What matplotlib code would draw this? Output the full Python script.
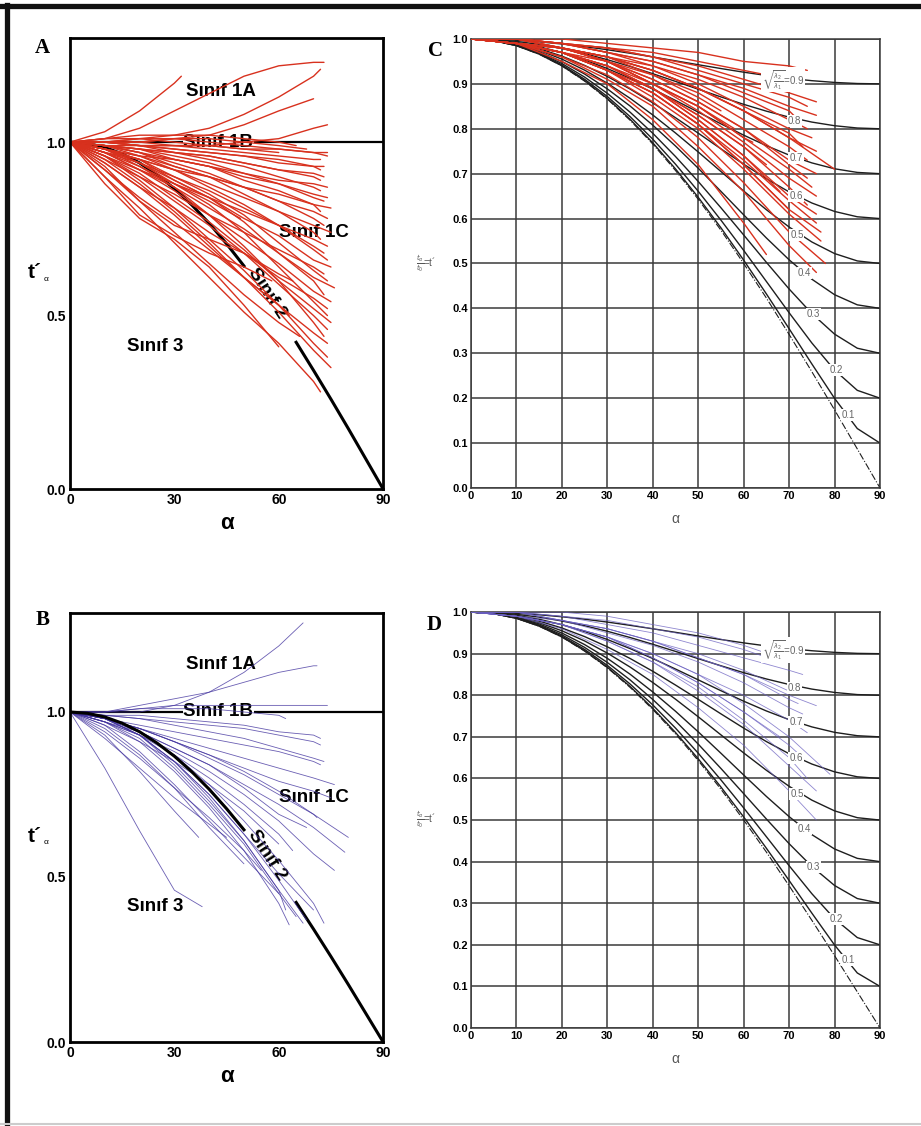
import matplotlib
matplotlib.use('Agg')
from matplotlib import pyplot as plt
from matplotlib.lines import Line2D

plt.rcParams['font.family'] = ['Liberation Sans', 'DejaVu Sans']

# Reference curves (flattened parallel folds), t' every 5 degrees of dip
alpha_ref = list(range(0, 95, 5))
ratio_names = ['0.1', '0.2', '0.3', '0.4', '0.5', '0.6', '0.7', '0.8', '0.9']
ref_01 = [1.0, 0.9962, 0.9850, 0.9663, 0.9403, 0.9073, 0.8675, 0.8212, 0.7687, 0.7106,
          0.6473, 0.5794, 0.5074, 0.4322, 0.3547, 0.2763, 0.1996, 0.1324, 0.1]
ref_02 = [1.0, 0.9963, 0.9854, 0.9673, 0.9422, 0.9102, 0.8718, 0.8271, 0.7768, 0.7211,
          0.6608, 0.5965, 0.5292, 0.4599, 0.3903, 0.3230, 0.2626, 0.2175, 0.2]
ref_03 = [1.0, 0.9965, 0.9862, 0.9690, 0.9453, 0.9151, 0.8789, 0.8370, 0.7899, 0.7382,
          0.6826, 0.6240, 0.5635, 0.5025, 0.4432, 0.3885, 0.3427, 0.3113, 0.3]
ref_04 = [1.0, 0.9968, 0.9873, 0.9715, 0.9496, 0.9219, 0.8888, 0.8507, 0.8080, 0.7616,
          0.7121, 0.6606, 0.6083, 0.5568, 0.5082, 0.4650, 0.4305, 0.4079, 0.4]
ref_05 = [1.0, 0.9971, 0.9886, 0.9746, 0.9551, 0.9306, 0.9014, 0.8679, 0.8307, 0.7906,
          0.7483, 0.7048, 0.6614, 0.6197, 0.5812, 0.5479, 0.5221, 0.5057, 0.5]
ref_06 = [1.0, 0.9976, 0.9903, 0.9783, 0.9618, 0.9411, 0.9165, 0.8885, 0.8577, 0.8246,
          0.7902, 0.7553, 0.7211, 0.6887, 0.6594, 0.6347, 0.6159, 0.6040, 0.6]
ref_07 = [1.0, 0.9981, 0.9923, 0.9828, 0.9697, 0.9534, 0.9341, 0.9123, 0.8884, 0.8631,
          0.8371, 0.8110, 0.7858, 0.7623, 0.7414, 0.7240, 0.7109, 0.7028, 0.7]
ref_08 = [1.0, 0.9986, 0.9946, 0.9879, 0.9787, 0.9673, 0.9539, 0.9389, 0.9226, 0.9055,
          0.8881, 0.8709, 0.8544, 0.8392, 0.8259, 0.8149, 0.8068, 0.8017, 0.8]
ref_09 = [1.0, 0.9993, 0.9971, 0.9936, 0.9888, 0.9829, 0.9760, 0.9682, 0.9599, 0.9513,
          0.9426, 0.9341, 0.9260, 0.9187, 0.9123, 0.9071, 0.9032, 0.9008, 0.9]
# class 2 boundary
class2 = [1.0, 0.996, 0.985, 0.966, 0.940, 0.906, 0.866, 0.819, 0.766, 0.707,
          0.643, 0.574, 0.500, 0.423, 0.342, 0.259, 0.174, 0.087, 0.0]

label_alpha = [83.0, 80.3, 75.3, 73.3, 71.7, 71.5, 71.5, 71.1, 68.6]
label_t = [0.163, 0.263, 0.387, 0.479, 0.563, 0.650, 0.735, 0.817, 0.909]

# Measured folds: end dip, then t' at 0, 10, 20 ... and at the end dip
red_a_end = [32, 73, 72, 70, 74, 65, 74, 60, 68,
             74, 72, 73, 72, 73, 72, 74, 72, 74, 73, 75, 72, 74, 73, 75, 72, 74,
             73, 74, 75, 73, 74, 76, 73, 75, 74, 74, 75, 74, 73, 74, 74, 75, 72,
             60, 58, 64, 49, 66, 63]
red_a = [
    [1.0, 1.03, 1.09, 1.17, 1.19],
    [1.0, 1.01, 1.04, 1.09, 1.14, 1.19, 1.22, 1.23, 1.23],
    [1.0, 1.0, 1.01, 1.02, 1.04, 1.08, 1.13, 1.19, 1.21],
    [1.0, 1.0, 1.0, 1.01, 1.02, 1.05, 1.09, 1.125],
    [1.0, 1.0, 0.99, 0.99, 0.99, 1.0, 1.01, 1.04, 1.05],
    [1.0, 1.01, 1.02, 1.02, 1.02, 1.01, 1.0, 0.99],
    [1.0, 1.0, 1.01, 1.01, 1.0, 0.99, 0.98, 0.97, 0.96],
    [1.0, 1.01, 1.01, 1.0, 0.99, 0.98, 0.97],
    [1.0, 1.0, 1.0, 1.01, 1.01, 1.0, 0.99, 0.98],
    [1.0, 1.0, 1.0, 0.99, 0.99, 0.98, 0.98, 0.97, 0.97],
    [1.0, 1.0, 0.99, 0.99, 0.98, 0.97, 0.96, 0.95, 0.95],
    [1.0, 0.99, 0.99, 0.98, 0.97, 0.96, 0.95, 0.93, 0.93],
    [1.0, 1.0, 0.99, 0.98, 0.97, 0.96, 0.94, 0.93, 0.92],
    [1.0, 0.99, 0.98, 0.97, 0.96, 0.94, 0.92, 0.91, 0.90],
    [1.0, 1.0, 0.99, 0.97, 0.96, 0.94, 0.92, 0.90, 0.89],
    [1.0, 0.98, 0.96, 0.95, 0.93, 0.91, 0.89, 0.88, 0.87],
    [1.0, 0.99, 0.98, 0.97, 0.95, 0.93, 0.90, 0.87, 0.86],
    [1.0, 0.99, 0.97, 0.95, 0.93, 0.90, 0.88, 0.85, 0.84],
    [1.0, 0.99, 0.98, 0.96, 0.94, 0.91, 0.88, 0.84, 0.83],
    [1.0, 0.97, 0.95, 0.92, 0.90, 0.87, 0.85, 0.82, 0.81],
    [1.0, 0.99, 0.98, 0.95, 0.93, 0.89, 0.86, 0.82, 0.80],
    [1.0, 0.98, 0.96, 0.93, 0.90, 0.87, 0.83, 0.80, 0.78],
    [1.0, 0.99, 0.97, 0.94, 0.91, 0.87, 0.83, 0.78, 0.76],
    [1.0, 0.98, 0.95, 0.92, 0.88, 0.84, 0.80, 0.76, 0.74],
    [1.0, 0.99, 0.97, 0.93, 0.90, 0.85, 0.80, 0.74, 0.72],
    [1.0, 0.96, 0.92, 0.88, 0.84, 0.80, 0.76, 0.72, 0.70],
    [1.0, 0.98, 0.94, 0.90, 0.86, 0.81, 0.76, 0.70, 0.68],
    [1.0, 0.99, 0.96, 0.92, 0.87, 0.82, 0.76, 0.69, 0.66],
    [1.0, 0.97, 0.94, 0.89, 0.84, 0.78, 0.73, 0.66, 0.64],
    [1.0, 0.95, 0.90, 0.85, 0.79, 0.74, 0.69, 0.64, 0.62],
    [1.0, 0.98, 0.95, 0.90, 0.85, 0.79, 0.71, 0.63, 0.60],
    [1.0, 0.97, 0.92, 0.87, 0.81, 0.75, 0.68, 0.61, 0.58],
    [1.0, 0.98, 0.95, 0.89, 0.84, 0.77, 0.68, 0.60, 0.56],
    [1.0, 0.97, 0.92, 0.86, 0.79, 0.72, 0.65, 0.57, 0.54],
    [1.0, 0.94, 0.87, 0.81, 0.74, 0.68, 0.61, 0.55, 0.52],
    [1.0, 0.98, 0.94, 0.88, 0.82, 0.74, 0.64, 0.54, 0.50],
    [1.0, 0.96, 0.91, 0.84, 0.77, 0.69, 0.60, 0.52, 0.48],
    [1.0, 0.96, 0.90, 0.83, 0.76, 0.68, 0.59, 0.50, 0.46],
    [1.0, 0.98, 0.93, 0.87, 0.79, 0.70, 0.60, 0.48, 0.44],
    [1.0, 0.92, 0.84, 0.77, 0.69, 0.61, 0.53, 0.45, 0.42],
    [1.0, 0.96, 0.89, 0.81, 0.72, 0.63, 0.53, 0.42, 0.38],
    [1.0, 0.95, 0.88, 0.80, 0.71, 0.61, 0.51, 0.40, 0.35],
    [1.0, 0.90, 0.81, 0.71, 0.61, 0.51, 0.42, 0.31, 0.28],
    [1.0, 0.88, 0.78, 0.72, 0.64, 0.53, 0.41],
    [1.0, 0.90, 0.79, 0.73, 0.68, 0.64, 0.60],
    [1.0, 0.92, 0.83, 0.76, 0.72, 0.68, 0.62, 0.60],
    [1.0, 0.97, 0.93, 0.88, 0.83, 0.78],
    [1.0, 0.93, 0.83, 0.74, 0.65, 0.56, 0.48, 0.44],
    [1.0, 0.94, 0.87, 0.79, 0.70, 0.61, 0.53, 0.50],
]

red_c_end = [74, 72, 76, 74, 76, 72, 74, 75, 73, 76, 74, 80, 76, 74, 75, 76, 74,
             76, 76, 77, 77, 78, 76, 65, 70, 68, 65, 62, 58, 55]
red_c = [
    [1.0, 1.0, 1.0, 0.99, 0.98, 0.97, 0.95, 0.94, 0.93],
    [1.0, 1.0, 0.99, 0.98, 0.97, 0.95, 0.93, 0.91, 0.90],
    [1.0, 1.0, 0.99, 0.98, 0.96, 0.94, 0.91, 0.88, 0.86],
    [1.0, 1.0, 0.99, 0.98, 0.96, 0.93, 0.90, 0.87, 0.85],
    [1.0, 1.0, 0.99, 0.97, 0.95, 0.92, 0.89, 0.85, 0.83],
    [1.0, 1.0, 0.99, 0.97, 0.95, 0.92, 0.88, 0.84, 0.82],
    [1.0, 1.0, 0.99, 0.97, 0.94, 0.91, 0.87, 0.82, 0.80],
    [1.0, 1.0, 0.98, 0.96, 0.94, 0.90, 0.85, 0.80, 0.78],
    [1.0, 1.0, 0.98, 0.96, 0.93, 0.89, 0.84, 0.79, 0.76],
    [1.0, 0.99, 0.98, 0.96, 0.93, 0.89, 0.84, 0.78, 0.75],
    [1.0, 0.99, 0.98, 0.96, 0.92, 0.88, 0.82, 0.76, 0.73],
    [1.0, 1.0, 0.98, 0.96, 0.93, 0.89, 0.84, 0.78, 0.71],
    [1.0, 0.99, 0.98, 0.95, 0.91, 0.86, 0.80, 0.73, 0.70],
    [1.0, 0.99, 0.98, 0.95, 0.91, 0.86, 0.80, 0.72, 0.69],
    [1.0, 0.99, 0.98, 0.95, 0.90, 0.85, 0.78, 0.71, 0.67],
    [1.0, 0.99, 0.97, 0.94, 0.90, 0.84, 0.77, 0.69, 0.65],
    [1.0, 0.99, 0.97, 0.94, 0.89, 0.83, 0.76, 0.67, 0.63],
    [1.0, 0.99, 0.97, 0.94, 0.89, 0.82, 0.74, 0.65, 0.61],
    [1.0, 0.99, 0.97, 0.93, 0.88, 0.81, 0.73, 0.64, 0.59],
    [1.0, 0.99, 0.97, 0.93, 0.88, 0.81, 0.72, 0.62, 0.57],
    [1.0, 0.99, 0.97, 0.93, 0.87, 0.80, 0.71, 0.61, 0.55],
    [1.0, 0.99, 0.96, 0.92, 0.86, 0.78, 0.68, 0.57, 0.50],
    [1.0, 0.99, 0.96, 0.91, 0.85, 0.76, 0.66, 0.54, 0.48],
    [1.0, 0.99, 0.95, 0.90, 0.82, 0.72, 0.59, 0.52],
    [1.0, 0.99, 0.97, 0.93, 0.88, 0.81, 0.72, 0.62],
    [1.0, 0.99, 0.97, 0.93, 0.89, 0.82, 0.74, 0.66],
    [1.0, 0.99, 0.97, 0.94, 0.89, 0.83, 0.76, 0.72],
    [1.0, 0.99, 0.98, 0.95, 0.90, 0.85, 0.78, 0.77],
    [1.0, 0.99, 0.97, 0.95, 0.90, 0.85, 0.80],
    [1.0, 1.0, 0.98, 0.95, 0.92, 0.87, 0.84],
]

blue_b_end = [67, 71, 74, 62, 72, 72, 73, 72, 76, 80, 79, 76, 71, 64, 75, 68,
              63, 67, 73, 70, 65, 50, 37, 60, 68, 62, 55, 45, 38, 60]
blue_b = [
    [1.0, 1.0, 1.0, 1.02, 1.06, 1.12, 1.20, 1.27],
    [1.0, 1.0, 1.02, 1.04, 1.06, 1.09, 1.12, 1.14, 1.14],
    [1.0, 1.0, 1.01, 1.02, 1.02, 1.02, 1.02, 1.02, 1.02],
    [1.0, 1.0, 1.01, 1.01, 1.01, 1.0, 0.99, 0.98],
    [1.0, 0.99, 0.99, 0.98, 0.97, 0.96, 0.94, 0.93, 0.92],
    [1.0, 0.99, 0.98, 0.97, 0.96, 0.95, 0.93, 0.91, 0.90],
    [1.0, 0.99, 0.98, 0.96, 0.94, 0.92, 0.89, 0.86, 0.85],
    [1.0, 0.98, 0.96, 0.94, 0.92, 0.90, 0.88, 0.85, 0.84],
    [1.0, 0.98, 0.95, 0.92, 0.89, 0.86, 0.83, 0.80, 0.78],
    [1.0, 0.98, 0.95, 0.91, 0.86, 0.81, 0.75, 0.69, 0.62],
    [1.0, 0.97, 0.94, 0.89, 0.84, 0.78, 0.72, 0.65, 0.575],
    [1.0, 0.97, 0.93, 0.88, 0.82, 0.75, 0.67, 0.57, 0.52],
    [1.0, 0.98, 0.95, 0.91, 0.87, 0.82, 0.76, 0.69, 0.68],
    [1.0, 0.97, 0.93, 0.87, 0.80, 0.72, 0.63, 0.58],
    [1.0, 0.98, 0.95, 0.91, 0.87, 0.83, 0.79, 0.76, 0.74],
    [1.0, 0.98, 0.94, 0.89, 0.84, 0.77, 0.69, 0.65],
    [1.0, 0.97, 0.91, 0.82, 0.71, 0.58, 0.42, 0.355],
    [1.0, 0.98, 0.93, 0.84, 0.73, 0.61, 0.46, 0.36],
    [1.0, 0.98, 0.94, 0.87, 0.78, 0.67, 0.55, 0.42, 0.36],
    [1.0, 0.98, 0.93, 0.85, 0.75, 0.63, 0.51, 0.40],
    [1.0, 0.97, 0.92, 0.83, 0.72, 0.60, 0.45, 0.38],
    [1.0, 0.95, 0.87, 0.77, 0.65, 0.54],
    [1.0, 0.93, 0.82, 0.70, 0.62],
    [1.0, 0.96, 0.88, 0.78, 0.67, 0.56, 0.45],
    [1.0, 0.98, 0.93, 0.85, 0.75, 0.63, 0.49, 0.37],
    [1.0, 0.98, 0.93, 0.85, 0.74, 0.61, 0.46, 0.40],
    [1.0, 0.94, 0.86, 0.77, 0.68, 0.58, 0.52],
    [1.0, 0.92, 0.83, 0.74, 0.66, 0.62],
    [1.0, 0.83, 0.64, 0.46, 0.41],
    [1.0, 0.96, 0.91, 0.85, 0.78, 0.70, 0.60],
]

blue_d_end = [73, 76, 73, 74, 79, 76, 76, 74, 68, 72, 72, 70, 68, 64]
blue_d = [
    [1.0, 1.0, 0.99, 0.97, 0.95, 0.92, 0.89, 0.86, 0.85],
    [1.0, 1.0, 0.98, 0.96, 0.93, 0.89, 0.85, 0.80, 0.775],
    [1.0, 0.99, 0.98, 0.95, 0.92, 0.88, 0.83, 0.77, 0.755],
    [1.0, 0.99, 0.97, 0.94, 0.90, 0.85, 0.80, 0.74, 0.71],
    [1.0, 0.99, 0.97, 0.94, 0.90, 0.85, 0.78, 0.70, 0.61],
    [1.0, 0.99, 0.97, 0.93, 0.88, 0.81, 0.73, 0.63, 0.57],
    [1.0, 0.99, 0.96, 0.91, 0.85, 0.77, 0.68, 0.57, 0.50],
    [1.0, 0.99, 0.97, 0.93, 0.88, 0.82, 0.74, 0.65, 0.60],
    [1.0, 1.0, 0.99, 0.98, 0.96, 0.94, 0.91, 0.88],
    [1.0, 1.0, 0.98, 0.96, 0.93, 0.89, 0.85, 0.79, 0.78],
    [1.0, 0.99, 0.97, 0.94, 0.89, 0.83, 0.76, 0.68, 0.66],
    [1.0, 1.0, 0.98, 0.96, 0.93, 0.90, 0.86, 0.81],
    [1.0, 0.99, 0.97, 0.94, 0.89, 0.83, 0.76, 0.70],
    [1.0, 1.0, 1.0, 0.99, 0.97, 0.95, 0.92, 0.905],
]


def dips(end):
    return list(range(0, end, 10)) + [end]


def draw_folds(ax, ends, curves, **kw):
    for end, t in zip(ends, curves):
        a = dips(end)
        assert len(a) == len(t), (end, t)
        ax.plot(a, t, solid_joinstyle='round', solid_capstyle='round', **kw)


def class_panel(ax, ends, curves, **kw):
    ax.set_xlim(0, 90)
    ax.set_ylim(0, 1.3)
    # class 1B line and class 2 boundary
    ax.plot([0, 90], [1.0, 1.0], color='black', lw=1.6, zorder=1)
    upper = [(a, t) for a, t in zip(alpha_ref, class2) if a <= 50]
    lower = [(a, t) for a, t in zip(alpha_ref, class2) if a >= 65]
    ax.plot(*zip(*upper), color='black', lw=2.2, zorder=kw.pop('c2_z', 1))
    ax.plot(*zip(*lower), color='black', lw=2.2, zorder=1)
    draw_folds(ax, ends, curves, **kw)

    ax.set_xticks([0, 30, 60, 90])
    ax.set_yticks([0.0, 0.5, 1.0])
    ax.set_yticklabels(['0.0', '0.5', '1.0'])
    ax.tick_params(length=0, labelsize=10, pad=3)
    plt.setp(ax.get_xticklabels() + ax.get_yticklabels(), fontweight='bold')
    for s in ax.spines.values():
        s.set_linewidth(2)
    ax.set_xlabel('α', fontsize=16, fontweight='bold', labelpad=4)
    ax.text(-0.135, 0.48, 't´', transform=ax.transAxes, fontsize=15,
            fontweight='bold', ha='left', va='center')
    ax.text(-0.085, 0.465, 'α', transform=ax.transAxes, fontsize=6,
            ha='left', va='center')

    tk = dict(fontsize=13.5, fontweight='bold', ha='center', va='center', zorder=1.5)
    ax.text(43.4, 1.145, 'Sınıf 1A', **tk)
    ax.text(42.6, 1.0, 'Sınıf 1B',
            bbox=dict(facecolor='white', edgecolor='none', pad=0.5), **tk)
    ax.text(70.2, 0.74, 'Sınıf 1C', **tk)
    ax.text(56.6, 0.565, 'Sınıf 2', rotation=-57, **tk)
    ax.text(24.4, 0.41, 'Sınıf 3', **tk)


def ratio_panel(ax, ends, curves, **kw):
    ax.set_xlim(0, 90)
    ax.set_ylim(0, 1.0)
    ax.set_xticks(range(0, 100, 10))
    ax.set_yticks([i / 10 for i in range(11)])
    ax.set_yticklabels(['%.1f' % (i / 10) for i in range(11)])
    ax.grid(True, color='#3a3a3a', lw=1.1)
    ax.set_axisbelow(True)
    ax.tick_params(length=0, labelsize=8, pad=2)
    plt.setp(ax.get_xticklabels() + ax.get_yticklabels(), fontweight='bold')
    for s in ax.spines.values():
        s.set_linewidth(1.1)
        s.set_color('#3a3a3a')

    draw_folds(ax, ends, curves, **kw)
    refs = [ref_01, ref_02, ref_03, ref_04, ref_05, ref_06, ref_07, ref_08, ref_09]
    for r in refs:
        ax.plot(alpha_ref, r, color='#1e1e1e', lw=1.0, zorder=2.5)
    ax.plot(alpha_ref, class2, color='#1e1e1e', lw=0.8, ls='-.', zorder=2.5)

    bb = dict(facecolor='white', edgecolor='none', pad=0.6)
    for name, a, t in zip(ratio_names, label_alpha, label_t):
        if name == '0.9':
            name = r'$\sqrt{\frac{\lambda_2}{\lambda_1}}$=0.9'
        ax.text(a, t, name, fontsize=7, color='#666666', ha='center',
                va='center', bbox=bb, zorder=3)

    ax.set_xlabel('α', fontsize=10, color='#555555', labelpad=8)
    ax.text(-0.085, 0.5, r'$\frac{t_\alpha}{t_0}$=t´', transform=ax.transAxes,
            fontsize=7, color='#555555', ha='right', va='center')


fig = plt.figure(figsize=(9.21, 11.26), dpi=100)

axA = fig.add_axes([0.076, 0.5657, 0.340, 0.4005])
class_panel(axA, red_a_end, red_a, color='#d8311e', lw=1.0, zorder=2)

axB = fig.add_axes([0.076, 0.0746, 0.340, 0.381])
class_panel(axB, blue_b_end, blue_b, color='#4536a0', lw=0.6, alpha=0.8,
            zorder=2, c2_z=3)

axC = fig.add_axes([0.5114, 0.5666, 0.4441, 0.3988])
ratio_panel(axC, red_c_end, red_c, color='#d8311e', lw=1.0, zorder=2.7)

axD = fig.add_axes([0.5114, 0.087, 0.4441, 0.3694])
ratio_panel(axD, blue_d_end, blue_d, color='#6a5fc0', lw=0.6, alpha=0.75,
            zorder=2.7)

# panel letters
for letter, x, y in [('A', 0.046, 0.957), ('B', 0.046, 0.449),
                     ('C', 0.473, 0.955), ('D', 0.471, 0.445)]:
    fig.text(x, y, letter, family='Liberation Serif', fontweight='bold',
             fontsize=15, ha='center', va='center')

# outer frame
fig.add_artist(Line2D([0.0076, 0.0076], [0.0, 0.996], color='#111111', lw=3.8))
fig.add_artist(Line2D([0.0, 1.0], [0.9951, 0.9951], color='#111111', lw=3.8))
fig.add_artist(Line2D([0.0, 1.0], [0.002, 0.002], color='#cccccc', lw=1.5))

fig.savefig('out.png', dpi=100)
